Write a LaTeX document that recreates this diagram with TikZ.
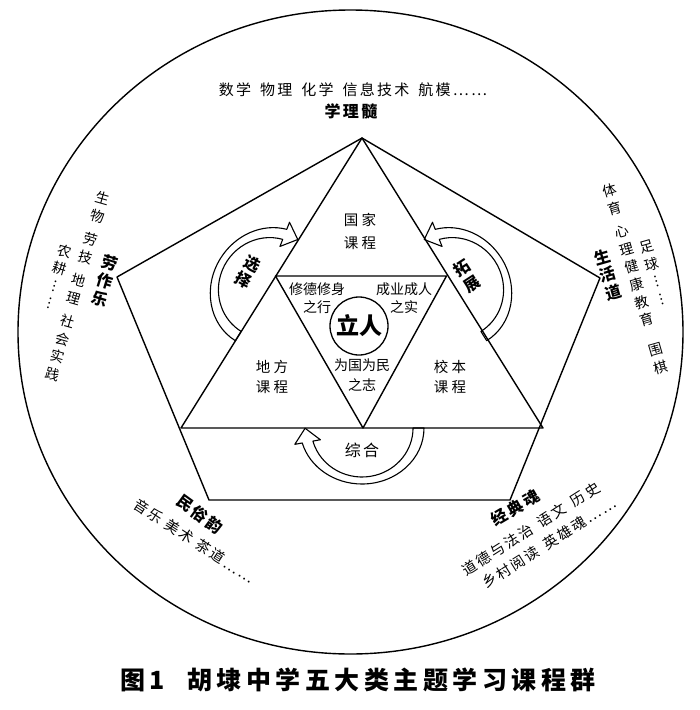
\documentclass[tikz,border=0pt]{standalone}
\usepackage{fontspec}
\newfontfamily\cjk{Noto Sans CJK SC}
\newfontfamily\cjkls{Noto Sans CJK SC}[LetterSpace=15]
\newfontfamily\cjkwide{Noto Sans CJK SC}[LetterSpace=22]
\newfontfamily\cjkcap{Noto Sans CJK SC}[LetterSpace=18]
\tikzset{
  crescent/.pic={
    \draw[arr] (62,0) arc[start angle=0,end angle=-164.5,x radius=62,y radius=56]
      -- (-67.2,-16.35) -- (-56.9,-0.25) -- (-41.6,-11.75) -- (-49.1,-13.1)
      arc[start angle=-164.5,end angle=0,x radius=51,y radius=49] -- cycle;
  }
}
\begin{document}
\begin{tikzpicture}[x=1pt,y=1pt,line join=round,
  edge/.style={line width=1.4pt},
  arr/.style={line width=1.1pt},
  reg/.style={font=\cjk\fontsize{14}{18.3}\selectfont,inner sep=0pt,align=center},
  regls/.style={font=\cjkls\fontsize{14.5}{18}\selectfont,inner sep=0pt,align=center},
  inner/.style={font=\cjk\fontsize{14}{18}\selectfont,inner sep=0pt,align=center},
  course/.style={font=\cjkwide\fontsize{14.5}{20}\selectfont,inner sep=0pt,align=center},
  bld/.style={font=\cjkls\bfseries\fontsize{16}{18.5}\selectfont,inner sep=0pt,align=center}]
\useasboundingbox (0,0) rectangle (700,-710);
\fill[white] (0,0) rectangle (700,-710);

% outer circle
\draw[edge] (350.5,-332) ellipse [x radius=332.5, y radius=322];

% pentagon
\coordinate (PT) at (362,-138);
\coordinate (PL) at (117,-277);
\coordinate (PR) at (600,-278);
\coordinate (PBL) at (209,-500);
\coordinate (PBR) at (510,-500);
\draw[edge] (PT) -- (PR) -- (PBR) -- (PBL) -- (PL) -- cycle;

% big triangle
\coordinate (TB) at (181,-428);
\coordinate (TC) at (543,-428);
\draw[edge] (PT) -- (TB) -- (TC) -- cycle;

% inner inverted triangle
\coordinate (IL) at (275.5,-276);
\coordinate (IR) at (446.5,-276);
\coordinate (IB) at (363,-428);
\draw[edge] (IL) -- (IR) -- (IB) -- cycle;

% centre circle
\node[circle,draw,line width=1.3pt,minimum size=58pt,inner sep=0pt,
      font=\cjk\bfseries\fontsize{23}{25}\selectfont] (lr) at (359,-326) {立人};

% crescent arrows
\begin{scope}[shift={(268,-288)},rotate=-121.8]
  \pic[transform shape] (arrL) {crescent};
\end{scope}
\begin{scope}[shift={(454,-288)},xscale=-1,rotate=-121.8]
  \pic[transform shape] (arrR) {crescent};
\end{scope}
\begin{scope}[shift={(362,-428)}]
  \pic[transform shape] (arrB) {crescent};
\end{scope}
\node[bld,rotate=-28] (xz) at (248,-272) {选\\择};
\node[bld,rotate=33] (tz) at (467,-276) {拓\\展};
\node[font=\cjkls\fontsize{16}{18}\selectfont,inner sep=0pt] (zh) at (362,-450) {综合};

% inner texts
\node[course,font=\cjkwide\fontsize{14.5}{23}\selectfont] (gj) at (360,-231) {国家\\课程};
\node[course] (df) at (272,-377) {地方\\课程};
\node[course] (xb) at (450,-377) {校本\\课程};
\node[inner] (xd) at (317,-298) {修德修身\\之行};
\node[inner] (cy) at (404,-298) {成业成人\\之实};
\node[inner,font=\cjk\fontsize{14}{20}\selectfont] (wg) at (362,-375) {为国为民\\之志};

% top
\node[regls,font=\cjkls\fontsize{15}{18}\selectfont] (sci) at (353,-90) {数学\hspace{9pt}物理\hspace{9pt}化学\hspace{9pt}信息技术\hspace{9pt}航模……};
\node[bld] (xls) at (351,-111) {学理髓};

% left
\node[bld,rotate=-17] (lzl) at (105,-281) {劳\\作\\乐};
\node[reg,rotate=-16] (lc1) at (77.5,-286.5) {生\\物\\[6pt]劳\\技\\[6pt]地\\理\\[6pt]社\\会\\实\\践};
\node[reg,rotate=-16] (lc2) at (57.7,-277) {农\\耕\\︙\\︙};

% right
\node[bld,rotate=16] (shd) at (608,-275) {生\\活\\道};
\node[reg,rotate=16] (rc1) at (635,-279) {体\\育\\[6pt]心\\理\\健\\康\\教\\育\\[13pt]围\\棋};
\node[reg,rotate=16] (rc2) at (654,-273) {足\\球\\︙\\︙};

% bottom left
\node[bld,rotate=-36] (msy) at (200,-514) {民俗韵};
\node[regls,rotate=-33] (ms) at (194,-541) {音乐\hspace{6pt}美术\hspace{6pt}茶道……};

% bottom right
\node[bld,rotate=30.5] (jdh) at (515,-508) {经典魂};
\node[regls,rotate=32.5] (jd1) at (531,-529) {道德与法治\hspace{8pt}语文\hspace{8pt}历史};
\node[regls,rotate=32] (jd2) at (549,-543) {乡村阅读\hspace{8pt}英雄魂……};

% caption
\node[font=\cjkcap\bfseries\fontsize{25}{28}\selectfont,inner sep=0pt] (cap) at (358,-680)
  {图1\hspace{22pt}胡埭中学五大类主题学习课程群};
\end{tikzpicture}
\end{document}
